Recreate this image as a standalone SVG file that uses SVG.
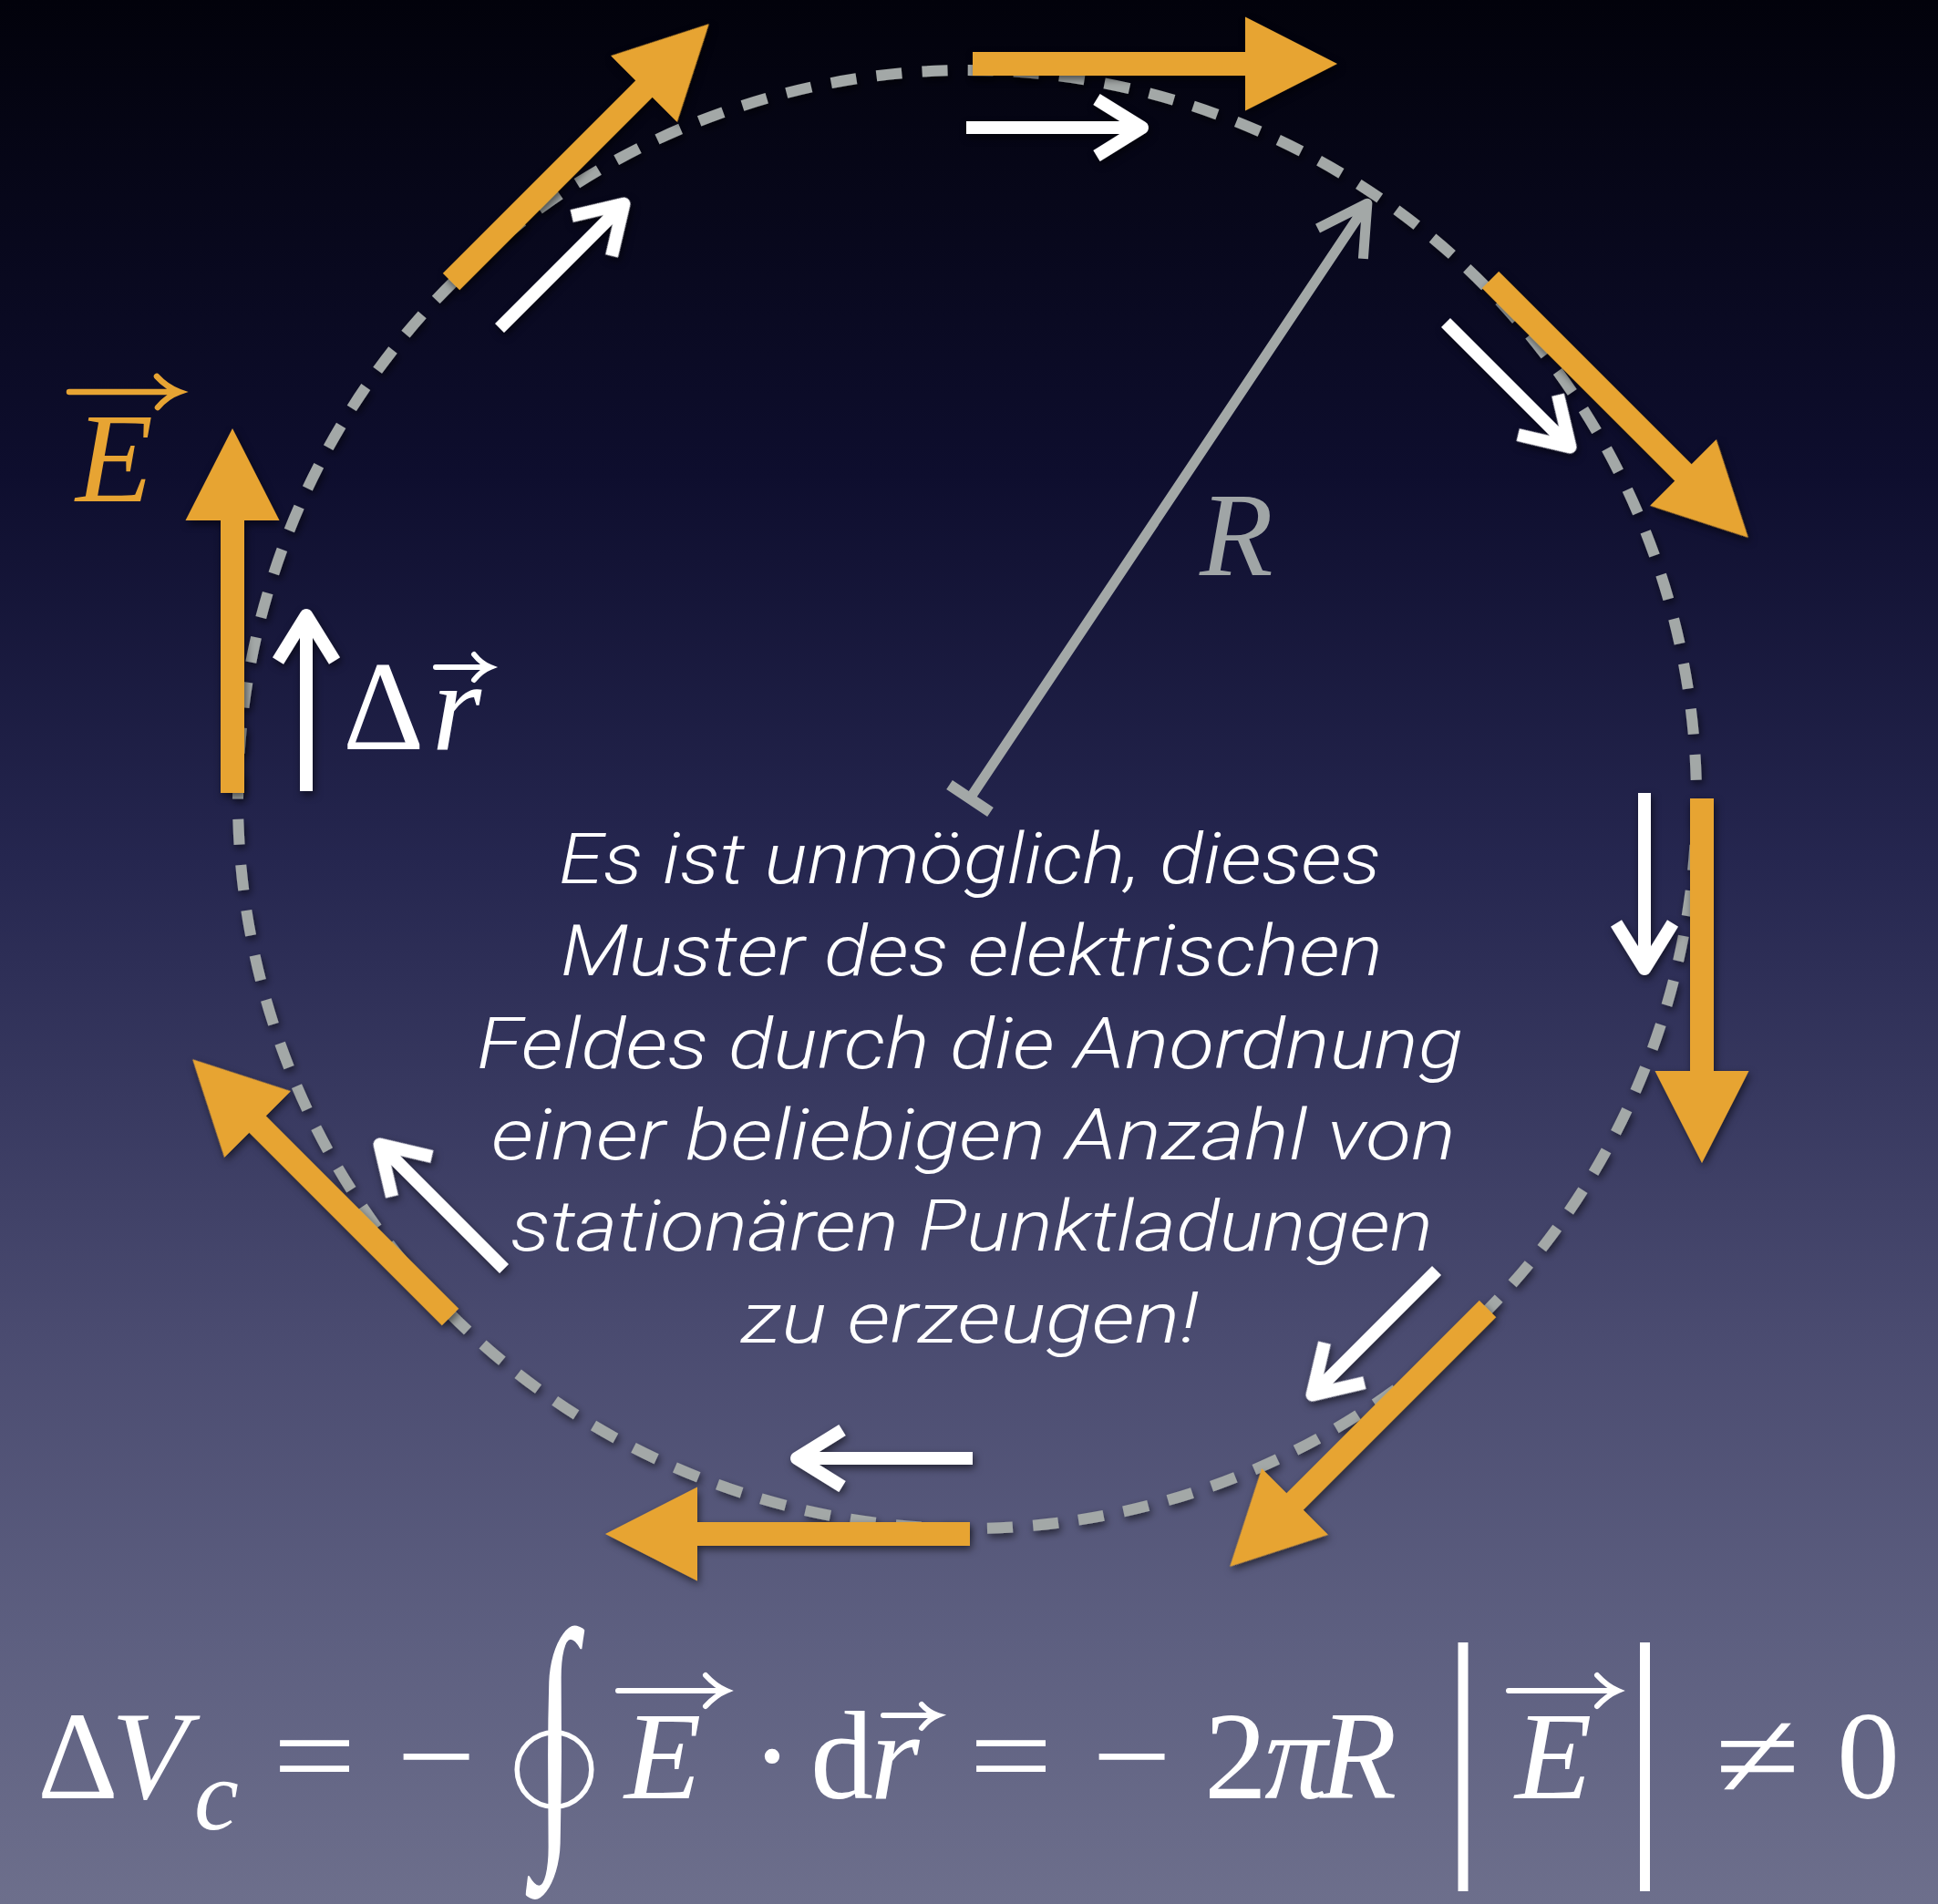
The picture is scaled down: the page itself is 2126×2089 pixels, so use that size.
<svg xmlns="http://www.w3.org/2000/svg" xmlns:xlink="http://www.w3.org/1999/xlink" width="2126" height="2089" viewBox="0 0 2126 2089">
<defs>
<linearGradient id="bg" x1="0" y1="0" x2="0" y2="1">
<stop offset="0" stop-color="#02020b"/>
<stop offset="0.25" stop-color="#0e0e2e"/>
<stop offset="0.45" stop-color="#25264f"/>
<stop offset="0.7" stop-color="#4a4b70"/>
<stop offset="0.86" stop-color="#5d5f80"/>
<stop offset="1" stop-color="#6d6f8c"/>
</linearGradient>
<filter id="sh" x="-20%" y="-20%" width="140%" height="140%">
<feDropShadow dx="2" dy="4" stdDeviation="4" flood-color="#000" flood-opacity="0.55"/>
</filter>
<path id="oa" d="M0,-13 H299 V-51.5 L400,0 L299,51.5 V13 H0 Z"/>
<path id="wa" d="M0,0 H192 M143,-31 L193,0 L143,31"/>
<style>
.orange{fill:#e7a433;filter:url(#sh)}
.white{fill:none;stroke:#fff;stroke-width:14;stroke-linejoin:round;filter:url(#sh)}
.dash{fill:none;stroke:#a3a8a7;stroke-width:12;stroke-dasharray:28 22.27;filter:url(#sh)}
.gray{fill:none;stroke:#a3a8a7;stroke-width:11;stroke-linejoin:round}
.m{font-family:"Liberation Serif","Times New Roman",serif;font-size:138px;fill:#fff}
.mi{font-style:italic}
.vec{fill:none;stroke:#fff;stroke-width:6;stroke-linecap:round}
.st{font-family:Roboto,"Liberation Sans",sans-serif;font-style:italic;font-weight:300;font-size:78px;fill:#fff;text-anchor:middle}
</style>
</defs>
<rect id="background" x="0" y="0" width="2126" height="2089" fill="url(#bg)"/>

<g id="loop">
<circle class="dash" cx="1061" cy="877" r="800"/>
</g>

<g id="radius">
<g class="gray" transform="translate(1064,876) rotate(-56.27)">
<path d="M0,0 H784 M732,-30 L785,0 L732,30"/>
<path d="M0,-27 V27" stroke-width="12"/>
</g>
<text x="1316" y="631" font-family="Liberation Serif,serif" font-style="italic" font-size="132" fill="#a0a5a6">R</text>
</g>

<g id="connectors">
<g id="field-arrows" class="orange">
<use xlink:href="#oa" transform="translate(1067,70)"/>
<use xlink:href="#oa" transform="translate(495,309) rotate(-45)"/>
<use xlink:href="#oa" transform="translate(1635,307) rotate(45)"/>
<use xlink:href="#oa" transform="translate(1867,876) rotate(90)"/>
<use xlink:href="#oa" transform="translate(1632,1436) rotate(135)"/>
<use xlink:href="#oa" transform="translate(1064,1683) rotate(180)"/>
<use xlink:href="#oa" transform="translate(494,1445) rotate(225)"/>
<use xlink:href="#oa" transform="translate(255,870) rotate(270)"/>
</g>
<g id="path-arrows" class="white">
<use xlink:href="#wa" transform="translate(1060,140)"/>
<use xlink:href="#wa" transform="translate(548,360) rotate(-45)"/>
<use xlink:href="#wa" transform="translate(1586,354) rotate(45)"/>
<use xlink:href="#wa" transform="translate(1804,870) rotate(90)"/>
<use xlink:href="#wa" transform="translate(1576,1394) rotate(135)"/>
<use xlink:href="#wa" transform="translate(1067,1600) rotate(180)"/>
<use xlink:href="#wa" transform="translate(553,1392) rotate(225)"/>
<use xlink:href="#wa" transform="translate(336,868) rotate(270)"/>
</g>
</g>

<g id="label-E">
<text x="83" y="550" font-family="Liberation Serif,serif" font-style="italic" font-size="139" fill="#e7a433">E</text>
<path d="M76,430 H195 M172,413 Q183,425 197,430 Q183,435 173,447" fill="none" stroke="#e7a433" stroke-width="6.5" stroke-linecap="round"/>
</g>

<g id="label-dr">
<text x="376" y="822" font-family="Liberation Serif,serif" font-size="139" fill="#fff">Δ</text>
<text x="474" y="822" font-family="Liberation Serif,serif" font-style="italic" font-size="139" fill="#fff">r</text>
<path d="M478,732 H536 M520,718 Q528,728 538,732 Q528,736 520,746" class="vec" stroke-width="5"/>
</g>

<g id="statement">
<text class="st" x="1064" y="969" textLength="902" lengthAdjust="spacingAndGlyphs">Es ist unmöglich, dieses</text>
<text class="st" x="1066" y="1070" textLength="902" lengthAdjust="spacingAndGlyphs">Muster des elektrischen</text>
<text class="st" x="1064" y="1172" textLength="1082" lengthAdjust="spacingAndGlyphs">Feldes durch die Anordnung</text>
<text class="st" x="1068" y="1272" textLength="1058" lengthAdjust="spacingAndGlyphs">einer beliebigen Anzahl von</text>
<text class="st" x="1066" y="1372" textLength="1012" lengthAdjust="spacingAndGlyphs">stationären Punktladungen</text>
<text class="st" x="1064" y="1473" textLength="502" lengthAdjust="spacingAndGlyphs">zu erzeugen!</text>
</g>

<g id="formula">
<text class="m" x="41" y="1973">Δ</text>
<text class="m mi" x="122" y="1973">V</text>
<text class="m mi" x="213" y="2007" style="font-size:110px">c</text>
<text class="m" x="299" y="1973" textLength="92" lengthAdjust="spacingAndGlyphs">=</text>
<text class="m" x="435" y="1973" textLength="87" lengthAdjust="spacingAndGlyphs">−</text>
<text class="m" x="0" y="0" transform="translate(609,2002) scale(0.56,1)" style="font-size:306px" text-anchor="middle">∫</text>
<circle cx="608" cy="1941.5" r="40.8" fill="none" stroke="#fff" stroke-width="5.5"/>
<text class="m mi" x="685" y="1973">E</text>
<path class="vec" d="M678,1855 H795 M774,1838 Q785,1850 797,1855 Q785,1860 774,1872"/>
<text class="m" x="824" y="1973">·</text>
<text class="m" x="889" y="1973">d</text>
<text class="m mi" x="955" y="1973">r</text>
<path class="vec" d="M969,1882 H1027 M1011,1870 Q1019,1879 1029,1882 Q1019,1886 1011,1896" stroke-width="5"/>
<text class="m" x="1063" y="1973" textLength="92" lengthAdjust="spacingAndGlyphs">=</text>
<text class="m" x="1198" y="1973" textLength="87" lengthAdjust="spacingAndGlyphs">−</text>
<text class="m" x="1321" y="1973">2</text>
<text class="m mi" x="1387" y="1973">π</text>
<text class="m mi" x="1448" y="1973">R</text>
<line x1="1605" y1="1802" x2="1605" y2="2075" stroke="#fff" stroke-width="11"/>
<text class="m mi" x="1662" y="1973">E</text>
<path class="vec" d="M1655,1855 H1773 M1752,1838 Q1763,1850 1775,1855 Q1763,1860 1752,1872"/>
<line x1="1804.5" y1="1802" x2="1804.5" y2="2075" stroke="#fff" stroke-width="11"/>
<text class="m" x="1881" y="1973" textLength="94" lengthAdjust="spacingAndGlyphs">≠</text>
<text class="m" x="2015" y="1973">0</text>
</g>
</svg>
